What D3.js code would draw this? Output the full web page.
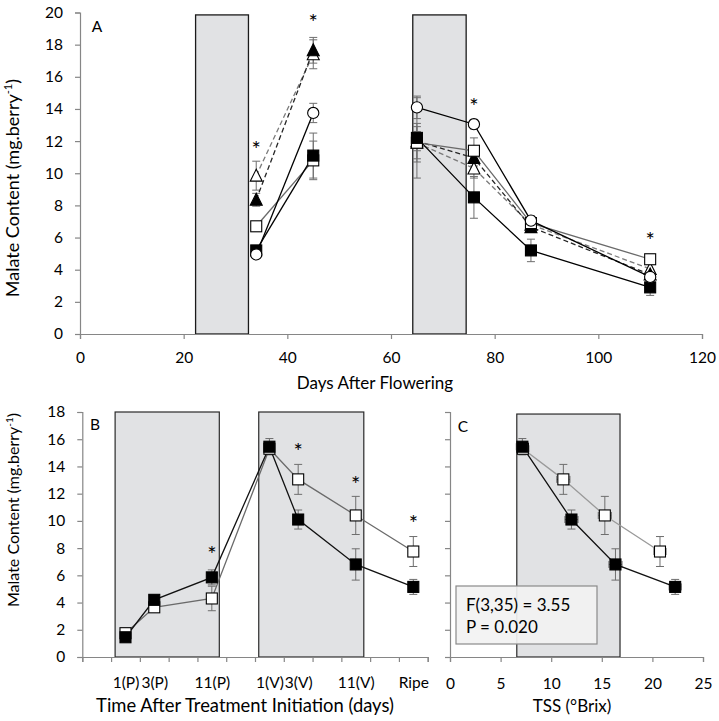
<!DOCTYPE html>
<html>
<head>
<meta charset="utf-8">
<script src="https://cdn.jsdelivr.net/npm/d3@7"></script>
<style>
  html, body { margin: 0; padding: 0; background: #fff; }
  svg text { font-family: Lato, "Open Sans", sans-serif; fill: #000; }
</style>
</head>
<body>
<svg id="chart" width="719" height="721"></svg>
<script>
// ---------------- Panel A data ----------------
const aDays  = [34, 45, 65, 76, 87, 110];
const aPhase = [1, 1, 2, 2, 2, 2];
const aFilledSquare   = [5.2, 11.1, 12.2, 8.5, 5.2, 2.9];
const aFilledSquareSE = [0.3, 1.4, 2.5, 1.3, 0.7, 0.5];
const aOpenSquare     = [6.7, 10.8, 11.9, 11.4, 6.9, 4.65];
const aOpenSquareSE   = [0.3, 1.2, 1.2, 0.8, 0.4, 0.3];
const aOpenCircle     = [4.95, 13.75, 14.1, 13.05, 7.05, 3.55];
const aOpenCircleSE   = [0.2, 0.6, 0.7, 0.3, 0.3, 0.3];
const aFilledTriangle   = [8.35, 17.65, 12.0, 10.95, 6.65, 3.7];
const aFilledTriangleSE = [0.4, 0.8, 0.6, 0.5, 0.3, 0.3];
const aOpenTriangle     = [9.85, 17.4, 11.9, 10.3, 6.8, 4.05];
const aOpenTriangleSE   = [0.9, 0.9, 1.0, 0.6, 0.3, 0.3];
const aStarDays   = [34, 45, 76, 110];
const aStarValues = [11.8, 19.7, 14.5, 6.15];
const aShadeStart = [22.3, 64.2];
const aShadeEnd   = [32.5, 74.5];
const aShadeTop   = 19.85;
const aXTicks = [0, 20, 40, 60, 80, 100, 120];
const aYTicks = [0, 2, 4, 6, 8, 10, 12, 14, 16, 18, 20];

// ---------------- Panel B data ----------------
const bSlotLabels = ["", "1(P)", "3(P)", "", "11(P)", "", "1(V)", "3(V)", "", "11(V)", "", "Ripe"];
const bPointSlots = [1, 2, 4, 6, 7, 9, 11];
const bOpen       = [1.75, 3.65, 4.3, 15.3, 13.05, 10.4, 7.75];
const bOpenSE     = [0.2, 0.2, 0.9, 0.4, 1.1, 1.4, 1.1];
const bFilled     = [1.45, 4.2, 5.85, 15.45, 10.1, 6.8, 5.15];
const bFilledSE   = [0.2, 0.25, 0.55, 0.6, 0.7, 1.15, 0.55];
const bStarSlots  = [4, 7, 9, 11];
const bStarValues = [7.9, 15.5, 13.1, 10.2];
const bShadeStart = [1.14, 6.13];
const bShadeEnd   = [4.76, 9.78];
const bShadeTop   = 18;
const bYTicks = [0, 2, 4, 6, 8, 10, 12, 14, 16, 18];

// ---------------- Panel C data ----------------
const cOpenTSS      = [7.2, 11.2, 15.3, 20.75];
const cOpenMalate   = [15.3, 13.05, 10.4, 7.75];
const cOpenSE       = [0.4, 1.1, 1.4, 1.1];
const cOpenTSSSE    = [0.6, 0.65, 0.65, 0.6];
const cFilledTSS    = [7.15, 12.0, 16.35, 22.25];
const cFilledMalate = [15.45, 10.1, 6.8, 5.15];
const cFilledSE     = [0.6, 0.7, 1.15, 0.55];
const cFilledTSSSE  = [0.6, 0.65, 0.65, 0.6];
const cShade = [6.6, 16.8];
const cShadeTop = 17.85;
const cXTicks = [0, 5, 10, 15, 20, 25];
const cStats = ["F(3,35) = 3.55", "P = 0.020"];

// ---------------- drawing ----------------
const svg = d3.select("#chart");
const AXIS = "#868686";
const SHADE = "#e1e2e4";
const ERR = "#6e6e6e";
const FS = 15.5;

function styleAxis(g) {
  g.select(".domain").attr("stroke", AXIS).attr("stroke-width", 1.2);
  g.selectAll(".tick line").attr("stroke", AXIS).attr("stroke-width", 1.2);
  g.selectAll(".tick text").attr("font-size", FS).attr("fill", "#000")
    .attr("font-family", "Lato, 'Open Sans', sans-serif");
}

function marker(sel, shape, x, y) {
  const s = 11;
  if (shape === "fsq" || shape === "osq") {
    sel.append("rect").attr("x", x - s / 2).attr("y", y - s / 2)
      .attr("width", s).attr("height", s)
      .attr("fill", shape === "fsq" ? "#000" : "#fff")
      .attr("stroke", "#000").attr("stroke-width", 1.1);
  } else if (shape === "ocirc") {
    sel.append("circle").attr("cx", x).attr("cy", y).attr("r", 5.6)
      .attr("fill", "#fff").attr("stroke", "#000").attr("stroke-width", 1.1);
  } else {
    const h = 11, w = 12;
    sel.append("path")
      .attr("d", `M${x},${y - h / 2 - 1}L${x + w / 2},${y + h / 2}L${x - w / 2},${y + h / 2}Z`)
      .attr("fill", shape === "ftri" ? "#000" : "#fff")
      .attr("stroke", "#000").attr("stroke-width", 1.1);
  }
}

function vErr(g, x, y0, y1, cap) {
  g.append("line").attr("x1", x).attr("x2", x).attr("y1", y0).attr("y2", y1)
    .attr("stroke", ERR).attr("stroke-width", 1);
  [y0, y1].forEach(y => g.append("line").attr("x1", x - cap).attr("x2", x + cap)
    .attr("y1", y).attr("y2", y).attr("stroke", ERR).attr("stroke-width", 1));
}
function hErr(g, y, x0, x1, cap) {
  g.append("line").attr("x1", x0).attr("x2", x1).attr("y1", y).attr("y2", y)
    .attr("stroke", ERR).attr("stroke-width", 1);
  [x0, x1].forEach(x => g.append("line").attr("x1", x).attr("x2", x)
    .attr("y1", y - cap).attr("y2", y + cap).attr("stroke", ERR).attr("stroke-width", 1));
}

function star(g, x, y) {
  // asterisk glyph centred on (x, y)
  g.append("text").attr("x", x).attr("y", y + 13)
    .attr("text-anchor", "middle").attr("font-size", 22)
    .attr("font-family", "'DejaVu Sans', Lato, sans-serif").attr("fill", "#222").text("*");
}

function yTitle(x, yc, size) {
  const t = svg.append("text")
    .attr("transform", `translate(${x},${yc}) rotate(-90)`)
    .attr("text-anchor", "middle").attr("font-size", size);
  t.append("tspan").text("Malate Content (mg.berry");
  t.append("tspan").attr("font-size", size * 0.62).attr("dy", -size * 0.4).text("-1");
  t.append("tspan").attr("dy", size * 0.4).text(")");
}

// ===== Panel A =====
const ax = d3.scaleLinear().domain([0, 120]).range([80, 702]);
const ay = d3.scaleLinear().domain([0, 20]).range([334, 12.5]);
const gA = svg.append("g");

aShadeStart.forEach((s, i) => {
  gA.append("rect").attr("x", ax(s)).attr("y", ay(aShadeTop))
    .attr("width", ax(aShadeEnd[i]) - ax(s)).attr("height", ay(0) - ay(aShadeTop))
    .attr("fill", SHADE).attr("stroke", "#1a1a1a").attr("stroke-width", 1.3);
});

const aX = gA.append("g").attr("transform", `translate(0,${ay(0)})`)
  .call(d3.axisBottom(ax).tickValues(aXTicks).tickSize(5).tickPadding(13));
styleAxis(aX);
const aY = gA.append("g").attr("transform", `translate(${ax(0)},0)`)
  .call(d3.axisLeft(ay).tickValues(aYTicks).tickSize(5).tickPadding(12));
styleAxis(aY);

const aSeries = [
  { v: aOpenTriangle, se: aOpenTriangleSE, shape: "otri", stroke: "#7a7a7a", dash: "5,3" },
  { v: aFilledTriangle, se: aFilledTriangleSE, shape: "ftri", stroke: "#262626", dash: "5,3" },
  { v: aOpenSquare, se: aOpenSquareSE, shape: "osq", stroke: "#6a6a6a", dash: null },
  { v: aFilledSquare, se: aFilledSquareSE, shape: "fsq", stroke: "#000", dash: null },
  { v: aOpenCircle, se: aOpenCircleSE, shape: "ocirc", stroke: "#000", dash: null }
];
const aErrG = gA.append("g"), aLineG = gA.append("g"), aMarkG = gA.append("g");
aSeries.forEach(s => {
  const pts = aDays.map((d, i) => ({ d, v: s.v[i], se: s.se[i], ph: aPhase[i] }));
  pts.forEach(p => vErr(aErrG, ax(p.d), ay(p.v + p.se), ay(p.v - p.se), 4));
  d3.groups(pts, p => p.ph).forEach(([, seg]) => {
    aLineG.append("path").datum(seg)
      .attr("d", d3.line().x(p => ax(p.d)).y(p => ay(p.v)))
      .attr("fill", "none").attr("stroke", s.stroke).attr("stroke-width", 1.3)
      .attr("stroke-dasharray", s.dash);
  });
});
aSeries.forEach(s => aDays.forEach((d, i) => marker(aMarkG, s.shape, ax(d), ay(s.v[i]))));
aStarDays.forEach((d, i) => star(gA, ax(d), ay(aStarValues[i])));

svg.append("text").attr("x", 97).attr("y", 32).attr("text-anchor", "middle")
  .attr("font-size", FS).text("A");
svg.append("text").attr("x", 375).attr("y", 389).attr("text-anchor", "middle")
  .attr("font-size", 17).text("Days After Flowering");
yTitle(19, 188, 18);

// ===== Panel B =====
const bx = d3.scaleLinear().domain([0, 12]).range([82.3, 427.7]);
const by = d3.scaleLinear().domain([0, 18]).range([657, 412]);
const gB = svg.append("g");

bShadeStart.forEach((s, i) => {
  gB.append("rect").attr("x", bx(s)).attr("y", by(bShadeTop))
    .attr("width", bx(bShadeEnd[i]) - bx(s)).attr("height", by(0) - by(bShadeTop))
    .attr("fill", SHADE).attr("stroke", "#2a2a2a").attr("stroke-width", 1.2);
});
const bXt = gB.append("g").attr("transform", `translate(0,${by(0)})`)
  .call(d3.axisBottom(bx).tickValues(d3.range(13)).tickSize(5).tickFormat(""));
styleAxis(bXt);
const bXl = gB.append("g").attr("transform", `translate(0,${by(0)})`)
  .call(d3.axisBottom(bx).tickValues(d3.range(12).map(i => i + 0.5)).tickSize(0).tickPadding(20)
    .tickFormat(v => bSlotLabels[Math.floor(v)]));
styleAxis(bXl);
bXl.select(".domain").remove();
const bY = gB.append("g").attr("transform", `translate(${bx(0)},0)`)
  .call(d3.axisLeft(by).tickValues(bYTicks).tickSize(5).tickPadding(12));
styleAxis(bY);

const bSeries = [
  { v: bOpen, se: bOpenSE, shape: "osq", stroke: "#6a6a6a" },
  { v: bFilled, se: bFilledSE, shape: "fsq", stroke: "#111" }
];
const bErrG = gB.append("g"), bLineG = gB.append("g"), bMarkG = gB.append("g");
bSeries.forEach(s => {
  const pts = bPointSlots.map((k, i) => ({ x: bx(k + 0.5), v: s.v[i], se: s.se[i] }));
  pts.forEach(p => vErr(bErrG, p.x, by(p.v + p.se), by(p.v - p.se), 4));
  bLineG.append("path").datum(pts)
    .attr("d", d3.line().x(p => p.x).y(p => by(p.v)))
    .attr("fill", "none").attr("stroke", s.stroke).attr("stroke-width", 1.3);
});
bSeries.forEach(s => bPointSlots.forEach((k, i) => marker(bMarkG, s.shape, bx(k + 0.5), by(s.v[i]))));
bStarSlots.forEach((k, i) => star(gB, bx(k + 0.5), by(bStarValues[i])));

svg.append("text").attr("x", 95).attr("y", 430).attr("text-anchor", "middle")
  .attr("font-size", FS).text("B");
svg.append("text").attr("x", 245).attr("y", 712).attr("text-anchor", "middle")
  .attr("font-size", 18.4).text("Time After Treatment Initiation (days)");
yTitle(19, 510, 16);

// ===== Panel C =====
const cx = d3.scaleLinear().domain([0, 25]).range([450, 703]);
const cy = by;
const gC = svg.append("g");
gC.append("rect").attr("x", cx(cShade[0])).attr("y", cy(cShadeTop))
  .attr("width", cx(cShade[1]) - cx(cShade[0])).attr("height", cy(0) - cy(cShadeTop))
  .attr("fill", SHADE).attr("stroke", "#2a2a2a").attr("stroke-width", 1.2);
const cX = gC.append("g").attr("transform", `translate(0,${cy(0)})`)
  .call(d3.axisBottom(cx).tickValues(cXTicks).tickSize(5).tickPadding(16));
styleAxis(cX);
const cY = gC.append("g").attr("transform", `translate(${cx(0)},0)`)
  .call(d3.axisLeft(cy).tickValues(bYTicks).tickSize(5).tickFormat(""));
styleAxis(cY);

const cSeries = [
  { x: cOpenTSS, v: cOpenMalate, se: cOpenSE, xse: cOpenTSSSE, shape: "osq", stroke: "#9a9a9a" },
  { x: cFilledTSS, v: cFilledMalate, se: cFilledSE, xse: cFilledTSSSE, shape: "fsq", stroke: "#111" }
];
const cErrG = gC.append("g"), cLineG = gC.append("g"), cMarkG = gC.append("g");
cSeries.forEach(s => {
  const pts = s.x.map((t, i) => ({ t, v: s.v[i], se: s.se[i], xse: s.xse[i] }));
  pts.forEach(p => {
    vErr(cErrG, cx(p.t), cy(p.v + p.se), cy(p.v - p.se), 4);
    hErr(cErrG, cy(p.v), cx(p.t - p.xse), cx(p.t + p.xse), 3.5);
  });
  cLineG.append("path").datum(pts)
    .attr("d", d3.line().x(p => cx(p.t)).y(p => cy(p.v)))
    .attr("fill", "none").attr("stroke", s.stroke).attr("stroke-width", 1.3);
});
cSeries.forEach(s => s.x.forEach((t, i) => marker(cMarkG, s.shape, cx(t), cy(s.v[i]))));

// stats box
gC.append("rect").attr("x", 456).attr("y", 586).attr("width", 141).attr("height", 58)
  .attr("fill", "#f2f2f2").attr("fill-opacity", 0.92).attr("stroke", "#8a8a8a").attr("stroke-width", 1.2);
cStats.forEach((s, i) => gC.append("text").attr("x", 466).attr("y", 611 + i * 22)
  .attr("font-size", 17).text(s));

svg.append("text").attr("x", 463).attr("y", 432).attr("text-anchor", "middle")
  .attr("font-size", FS).text("C");
svg.append("text").attr("x", 572).attr("y", 712).attr("text-anchor", "middle")
  .attr("font-size", 17).text("TSS (°Brix)");
</script>
</body>
</html>
